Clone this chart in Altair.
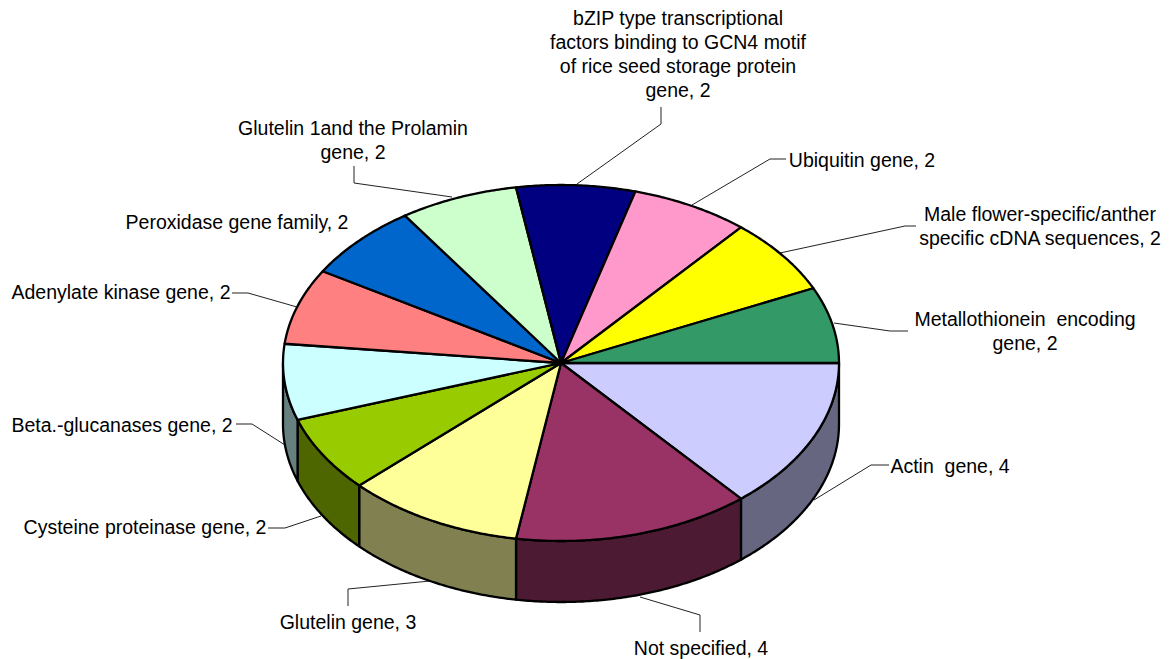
import numpy as np
import altair as alt

categories = ["Actin gene", "Not specified", "Glutelin gene", "Cysteine proteinase gene",
              "Beta.-glucanases gene", "Adenylate kinase gene", "Peroxidase gene family",
              "Glutelin 1and the Prolamin gene",
              "bZIP type transcriptional factors binding to GCN4 motif of rice seed storage protein gene",
              "Ubiquitin gene", "Male flower-specific/anther specific cDNA sequences",
              "Metallothionein encoding gene"]
values = [4, 4, 3, 2, 2, 2, 2, 2, 2, 2, 2, 2]
top_colors = ["#CCCCFF", "#993366", "#FFFF99", "#99CC00", "#CCFFFF", "#FF8080",
              "#0066CC", "#CCFFCC", "#000080", "#FF99CC", "#FFFF00", "#339966"]
wall_colors = ["#666680", "#4D1A33", "#808050", "#4D6600", "#668080", "#804040",
               "#003366", "#668066", "#000040", "#804D66", "#808000", "#1A4D33"]
label_texts = ["Actin\u00a0 gene, 4", "Not specified, 4", "Glutelin gene, 3", "Cysteine proteinase gene, 2",
               "Beta.-glucanases gene, 2", "Adenylate kinase gene, 2", "Peroxidase gene family, 2",
               "Glutelin 1and the Prolamin\ngene, 2",
               "bZIP type transcriptional\nfactors binding to GCN4 motif\nof rice seed storage protein\ngene, 2",
               "Ubiquitin gene, 2", "Male flower-specific/anther\nspecific cDNA sequences, 2",
               "Metallothionein\u00a0 encoding\ngene, 2"]
label_x = [950, 701, 348, 145, 122, 121, 237, 353, 678, 862, 1040, 1025]
label_y = [467, 649, 623, 528, 426, 293, 223, 129, 19, 161, 215, 320]
leaders = [
    [[814, 500], [871, 465], [889, 465]],
    [[640, 597], [700, 615], [700, 632]],
    [[430, 581], [348, 589], [348, 606]],
    [[321, 516], [285, 528], [268, 528]],
    [[285, 445], [252, 424], [236, 424]],
    [[297, 307], [248, 293], [232, 293]],
    [[452, 197], [354, 183], [354, 166]],
    [[577, 184], [661, 124], [661, 107]],
    [[692, 205], [770, 159], [786, 159]],
    [[780, 253], [905, 226], [916, 226]],
    [[834, 323], [890, 331], [908, 331]],
]

CX, CY, RX, RY, DEPTH = 561, 363, 278, 178, 61


def arc(a0, a1, dy=0):
    t = np.radians(np.linspace(a0, a1, max(int(abs(a1 - a0)) * 2, 2) + 1))
    return [[float(CX + RX * np.cos(v)), float(CY + dy + RY * np.sin(v))] for v in t]


def feature(coords, color, kind="Polygon", name=""):
    geom = coords if kind == "LineString" else [coords]
    return {"type": "Feature", "geometry": {"type": kind, "coordinates": geom},
            "properties": {"color": color, "name": name}}


edges = np.concatenate([[0], np.cumsum(values)]) * 360 / sum(values)
tops, walls = [], []
for i, name in enumerate(categories):
    a0, a1 = float(edges[i]), float(edges[i + 1])
    tops.append(feature([[CX, CY]] + arc(a0, a1) + [[CX, CY]], top_colors[i], name=name))
    if a0 < 180:
        b1 = min(a1, 180)
        top = arc(a0, b1)
        bottom = arc(b1, a0, DEPTH)
        walls.append(feature(top + bottom + [top[0]], wall_colors[i], name=name))

leader_features = [feature(p, "#222222", "LineString") for p in leaders]

proj = dict(type="identity", scale=1, translate=[-8, -8])


def geo_layer(features, **mark):
    return (alt.Chart(alt.Data(values=features)).mark_geoshape(**mark)
            .encode(fill=alt.Color("properties.color:N", scale=None))
            .project(**proj))


leader_layer = (alt.Chart(alt.Data(values=leader_features))
                .mark_geoshape(filled=False, stroke="#222222", strokeWidth=1)
                .project(**proj))
wall_layer = geo_layer(walls, stroke="black", strokeWidth=2.3, strokeJoin="round")
top_layer = geo_layer(tops, stroke="black", strokeWidth=2.3, strokeJoin="round")

labels = [{"label": t, "lon": x, "lat": y} for t, x, y in zip(label_texts, label_x, label_y)]
text_layer = (alt.Chart(alt.Data(values=labels))
              .mark_text(font="Liberation Sans", fontSize=19.5, color="black", align="center",
                         baseline="middle", lineBreak="\n", lineHeight=24)
              .encode(longitude="lon:Q", latitude="lat:Q", text="label:N")
              .project(**proj))

chart = (alt.layer(leader_layer, wall_layer, top_layer, text_layer)
         .properties(width=1156, height=651, padding=0, background="white")
         .configure_view(stroke=None))

chart.save("out.html", embed_options={"renderer": "svg", "actions": False})
